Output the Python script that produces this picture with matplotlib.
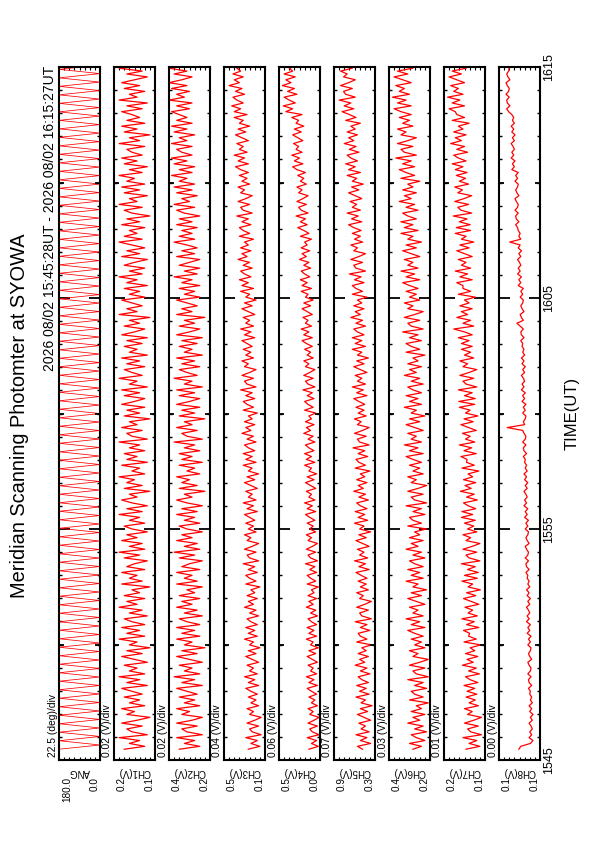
import matplotlib.pyplot as plt
import numpy as np
from matplotlib.ticker import MultipleLocator

plt.rcParams["font.family"] = ["Liberation Sans", "DejaVu Sans"]

W, H = 595, 842  # page size in px (dpi 100), chart drawn rotated onto a portrait page

TITLE = "Meridian Scanning Photomter at SYOWA"
PERIOD = "2026 08/02 15:45:28UT - 2026 08/02 16:15:27UT"
T_START, T_END = 28 / 60, 30 + 27 / 60  # minutes after 15:45 UT
time_ticks = [0, 10, 20, 30]
time_labels = ["1545", "1555", "1605", "1615"]

names = ["ANG", "CH1(V)", "CH2(V)", "CH3(V)", "CH4(V)", "CH5(V)", "CH6(V)", "CH7(V)", "CH8(V)"]
div_labels = ["22.5 (deg)/div", "0.02 (V)/div", "0.02 (V)/div", "0.04 (V)/div", "0.06 (V)/div",
              "0.07 (V)/div", "0.03 (V)/div", "0.01 (V)/div", "0.00 (V)/div"]
lo = [0.0, 0.08, 0.22, 0.14, 0.02, 0.30, 0.19, 0.12, 0.100]
hi = [180.0, 0.24, 0.38, 0.46, 0.50, 0.86, 0.43, 0.20, 0.132]
hi_labels = ["180.0", "0.2", "0.4", "0.5", "0.5", "0.9", "0.4", "0.2", "0.1"]
lo_labels = ["0.0", "0.1", "0.2", "0.1", "0.0", "0.3", "0.2", "0.1", "0.1"]

# scan angle, one value per sweep end
ang_deg = [
    180, 0, 180, 0, 180, 0, 180, 0, 180, 0, 180, 0, 180, 0, 180, 0, 180, 0, 180, 0,
    180, 0, 180, 0, 180, 0, 180, 0, 180, 0, 180, 0, 180, 0, 180, 0, 180, 0, 180, 0,
    180, 0, 180, 0, 180, 0, 180, 0, 180, 0, 180, 0, 180, 0, 180, 0, 180, 0, 180, 0,
    180, 0, 180, 0, 180, 0, 180, 0, 180, 0, 180, 0, 180, 0, 180, 0, 180, 0, 180, 0,
    180, 0, 180, 0, 180, 0, 180, 0, 180, 0, 180, 0, 180, 0, 180, 0, 180, 0, 180, 0,
    180, 0, 180, 0, 180, 0, 180, 0, 180, 0, 180, 0, 180, 0, 180, 0, 180, 0, 180, 0,
    180, 0, 180, 0, 180, 0, 180, 0, 180, 0, 180, 0, 180, 0, 180, 0, 180, 0, 180, 0,
    180, 0, 180, 0, 180, 0, 180, 0, 180, 0, 180, 0, 180, 0, 180, 0, 180, 0, 180, 0,
    180, 0, 180, 0,
]

# channel outputs (V), one value every 7.5 s
ch1 = [
    0.20, 0.12, 0.18, 0.14, 0.22, 0.11, 0.17, 0.19, 0.13, 0.21, 0.15, 0.10, 0.19, 0.16, 0.21, 0.12, 0.18, 0.14, 0.20, 0.13,
    0.17, 0.21, 0.11, 0.19, 0.14, 0.22, 0.12, 0.18, 0.15, 0.20, 0.11, 0.16, 0.21, 0.13, 0.19, 0.10, 0.18, 0.15, 0.22, 0.12,
    0.19, 0.14, 0.21, 0.12, 0.17, 0.20, 0.11, 0.18, 0.13, 0.22, 0.15, 0.19, 0.12, 0.20, 0.14, 0.17, 0.10, 0.21, 0.13, 0.18,
    0.15, 0.21, 0.12, 0.19, 0.16, 0.11, 0.20, 0.14, 0.22, 0.12, 0.18, 0.13, 0.21, 0.15, 0.19, 0.11, 0.17, 0.20, 0.12, 0.18,
    0.14, 0.22, 0.13, 0.19, 0.11, 0.17, 0.21, 0.15, 0.18, 0.10, 0.20, 0.13, 0.19, 0.16, 0.22, 0.12, 0.17, 0.14, 0.21, 0.11,
    0.19, 0.15, 0.20, 0.12, 0.18, 0.14, 0.22, 0.11, 0.17, 0.19, 0.13, 0.21, 0.15, 0.18, 0.10, 0.20, 0.14, 0.19, 0.12, 0.21,
    0.16, 0.12, 0.20, 0.14, 0.21, 0.11, 0.18, 0.15, 0.22, 0.13, 0.17, 0.20, 0.12, 0.19, 0.14, 0.21, 0.11, 0.18, 0.15, 0.20,
    0.13, 0.19, 0.11, 0.21, 0.16, 0.12, 0.20, 0.14, 0.18, 0.10, 0.22, 0.15, 0.19, 0.13, 0.17, 0.21, 0.12, 0.18, 0.14, 0.20,
    0.11, 0.19, 0.15, 0.22, 0.13, 0.18, 0.12, 0.20, 0.16, 0.11, 0.21, 0.14, 0.19, 0.12, 0.17, 0.22, 0.13, 0.20, 0.15, 0.18,
    0.12, 0.21, 0.14, 0.19, 0.10, 0.17, 0.20, 0.13, 0.22, 0.15, 0.18, 0.11, 0.20, 0.14, 0.21, 0.12, 0.19, 0.16, 0.22, 0.13,
    0.18, 0.11, 0.20, 0.15, 0.21, 0.13, 0.17, 0.19, 0.12, 0.22, 0.14, 0.18, 0.10, 0.20, 0.15, 0.21, 0.12, 0.19, 0.14, 0.17,
    0.21, 0.13, 0.19, 0.11, 0.22, 0.15, 0.18, 0.12, 0.20, 0.14, 0.21, 0.16, 0.11, 0.19, 0.13, 0.22, 0.15, 0.18, 0.12, 0.20,
]
ch2 = [
    0.34, 0.26, 0.32, 0.28, 0.35, 0.25, 0.31, 0.33, 0.27, 0.35, 0.29, 0.25, 0.33, 0.30, 0.35, 0.26, 0.32, 0.28, 0.34, 0.27,
    0.31, 0.35, 0.25, 0.33, 0.28, 0.36, 0.26, 0.32, 0.29, 0.34, 0.25, 0.30, 0.35, 0.27, 0.33, 0.24, 0.32, 0.29, 0.35, 0.26,
    0.33, 0.28, 0.35, 0.26, 0.31, 0.34, 0.25, 0.32, 0.27, 0.35, 0.29, 0.33, 0.26, 0.34, 0.28, 0.31, 0.25, 0.35, 0.27, 0.32,
    0.29, 0.35, 0.26, 0.33, 0.30, 0.25, 0.34, 0.28, 0.36, 0.26, 0.32, 0.27, 0.35, 0.29, 0.33, 0.25, 0.31, 0.34, 0.26, 0.32,
    0.28, 0.35, 0.27, 0.33, 0.25, 0.31, 0.35, 0.29, 0.32, 0.24, 0.34, 0.27, 0.33, 0.30, 0.35, 0.26, 0.31, 0.28, 0.34, 0.25,
    0.33, 0.29, 0.34, 0.26, 0.32, 0.28, 0.36, 0.25, 0.31, 0.33, 0.27, 0.35, 0.29, 0.32, 0.24, 0.34, 0.28, 0.33, 0.26, 0.35,
    0.30, 0.26, 0.34, 0.28, 0.35, 0.25, 0.32, 0.29, 0.36, 0.27, 0.31, 0.34, 0.26, 0.33, 0.28, 0.35, 0.25, 0.32, 0.29, 0.34,
    0.27, 0.33, 0.25, 0.35, 0.30, 0.26, 0.34, 0.28, 0.32, 0.24, 0.35, 0.29, 0.33, 0.27, 0.31, 0.35, 0.26, 0.32, 0.28, 0.34,
    0.26, 0.33, 0.29, 0.36, 0.27, 0.32, 0.26, 0.34, 0.30, 0.26, 0.35, 0.28, 0.33, 0.27, 0.31, 0.36, 0.28, 0.34, 0.29, 0.33,
    0.27, 0.35, 0.29, 0.34, 0.26, 0.32, 0.35, 0.28, 0.36, 0.30, 0.33, 0.27, 0.35, 0.29, 0.36, 0.28, 0.34, 0.31, 0.37, 0.29,
    0.34, 0.28, 0.36, 0.31, 0.37, 0.29, 0.33, 0.35, 0.29, 0.37, 0.31, 0.34, 0.28, 0.36, 0.31, 0.37, 0.29, 0.35, 0.31, 0.34,
    0.37, 0.30, 0.35, 0.29, 0.38, 0.32, 0.35, 0.30, 0.37, 0.31, 0.38, 0.33, 0.29, 0.36, 0.31, 0.38, 0.32, 0.35, 0.30, 0.37,
]
ch3 = [
    0.27, 0.18, 0.25, 0.20, 0.29, 0.17, 0.24, 0.26, 0.19, 0.28, 0.22, 0.17, 0.26, 0.23, 0.28, 0.19, 0.25, 0.21, 0.27, 0.20,
    0.25, 0.29, 0.19, 0.27, 0.22, 0.30, 0.20, 0.26, 0.23, 0.28, 0.19, 0.24, 0.29, 0.21, 0.27, 0.18, 0.26, 0.23, 0.30, 0.20,
    0.27, 0.22, 0.29, 0.20, 0.25, 0.28, 0.19, 0.26, 0.21, 0.30, 0.23, 0.27, 0.20, 0.28, 0.22, 0.25, 0.18, 0.29, 0.21, 0.26,
    0.29, 0.20, 0.27, 0.22, 0.31, 0.19, 0.26, 0.28, 0.21, 0.30, 0.24, 0.19, 0.28, 0.25, 0.30, 0.21, 0.27, 0.23, 0.29, 0.22,
    0.26, 0.30, 0.20, 0.28, 0.23, 0.31, 0.21, 0.27, 0.24, 0.29, 0.20, 0.25, 0.30, 0.22, 0.28, 0.19, 0.27, 0.24, 0.31, 0.21,
    0.29, 0.24, 0.31, 0.22, 0.27, 0.30, 0.21, 0.28, 0.23, 0.32, 0.25, 0.29, 0.22, 0.30, 0.24, 0.27, 0.20, 0.31, 0.23, 0.28,
    0.31, 0.22, 0.29, 0.24, 0.33, 0.21, 0.28, 0.30, 0.23, 0.32, 0.26, 0.21, 0.30, 0.27, 0.32, 0.23, 0.29, 0.25, 0.31, 0.24,
    0.28, 0.32, 0.22, 0.30, 0.25, 0.33, 0.23, 0.29, 0.26, 0.31, 0.22, 0.27, 0.32, 0.24, 0.30, 0.21, 0.29, 0.26, 0.33, 0.23,
    0.32, 0.27, 0.34, 0.25, 0.30, 0.33, 0.24, 0.31, 0.26, 0.35, 0.28, 0.32, 0.25, 0.33, 0.27, 0.30, 0.23, 0.34, 0.26, 0.31,
    0.34, 0.25, 0.32, 0.27, 0.36, 0.24, 0.31, 0.33, 0.26, 0.35, 0.29, 0.24, 0.33, 0.30, 0.35, 0.26, 0.32, 0.28, 0.34, 0.27,
    0.33, 0.37, 0.27, 0.35, 0.30, 0.38, 0.28, 0.34, 0.31, 0.36, 0.27, 0.32, 0.37, 0.29, 0.35, 0.26, 0.34, 0.31, 0.38, 0.28,
    0.38, 0.33, 0.40, 0.31, 0.36, 0.39, 0.30, 0.37, 0.32, 0.42, 0.34, 0.38, 0.31, 0.39, 0.33, 0.36, 0.29, 0.41, 0.32, 0.37,
]
ch4 = [
    0.15, 0.04, 0.12, 0.06, 0.17, 0.03, 0.11, 0.14, 0.05, 0.16, 0.09, 0.03, 0.14, 0.10, 0.16, 0.05, 0.12, 0.08, 0.15, 0.06,
    0.12, 0.17, 0.05, 0.15, 0.09, 0.18, 0.06, 0.13, 0.10, 0.16, 0.05, 0.11, 0.17, 0.07, 0.15, 0.04, 0.13, 0.10, 0.18, 0.06,
    0.15, 0.09, 0.17, 0.06, 0.12, 0.16, 0.05, 0.13, 0.07, 0.18, 0.10, 0.15, 0.06, 0.16, 0.09, 0.12, 0.04, 0.17, 0.07, 0.13,
    0.17, 0.06, 0.14, 0.08, 0.19, 0.05, 0.13, 0.16, 0.07, 0.18, 0.11, 0.05, 0.16, 0.12, 0.18, 0.07, 0.14, 0.10, 0.17, 0.08,
    0.14, 0.19, 0.07, 0.17, 0.11, 0.20, 0.08, 0.15, 0.12, 0.18, 0.07, 0.13, 0.19, 0.09, 0.17, 0.06, 0.15, 0.12, 0.20, 0.08,
    0.18, 0.12, 0.20, 0.09, 0.15, 0.19, 0.08, 0.16, 0.10, 0.21, 0.13, 0.18, 0.09, 0.19, 0.12, 0.15, 0.07, 0.20, 0.10, 0.16,
    0.20, 0.09, 0.17, 0.11, 0.22, 0.08, 0.16, 0.19, 0.10, 0.21, 0.14, 0.08, 0.19, 0.15, 0.21, 0.10, 0.17, 0.13, 0.20, 0.11,
    0.18, 0.23, 0.11, 0.21, 0.15, 0.24, 0.12, 0.19, 0.16, 0.22, 0.11, 0.17, 0.23, 0.13, 0.21, 0.10, 0.19, 0.16, 0.24, 0.12,
    0.23, 0.17, 0.25, 0.14, 0.20, 0.24, 0.13, 0.21, 0.15, 0.26, 0.18, 0.23, 0.14, 0.24, 0.17, 0.20, 0.12, 0.25, 0.15, 0.21,
    0.28, 0.17, 0.25, 0.19, 0.30, 0.16, 0.24, 0.27, 0.18, 0.29, 0.22, 0.16, 0.27, 0.23, 0.29, 0.18, 0.25, 0.21, 0.28, 0.19,
    0.29, 0.34, 0.22, 0.32, 0.26, 0.35, 0.23, 0.30, 0.27, 0.33, 0.22, 0.28, 0.34, 0.24, 0.32, 0.21, 0.30, 0.27, 0.35, 0.23,
    0.42, 0.34, 0.45, 0.31, 0.38, 0.44, 0.29, 0.40, 0.32, 0.46, 0.36, 0.42, 0.31, 0.44, 0.34, 0.38, 0.28, 0.45, 0.32, 0.40,
]
ch5 = [
    0.47, 0.54, 0.36, 0.50, 0.41, 0.56, 0.38, 0.49, 0.43, 0.52, 0.36, 0.45, 0.54, 0.40, 0.50, 0.34, 0.49, 0.43, 0.56, 0.38,
    0.51, 0.42, 0.55, 0.39, 0.48, 0.53, 0.37, 0.50, 0.41, 0.57, 0.44, 0.51, 0.39, 0.53, 0.42, 0.48, 0.35, 0.55, 0.41, 0.50,
    0.53, 0.37, 0.50, 0.41, 0.57, 0.35, 0.48, 0.51, 0.39, 0.55, 0.44, 0.35, 0.51, 0.46, 0.55, 0.39, 0.50, 0.42, 0.53, 0.41,
    0.49, 0.56, 0.38, 0.52, 0.43, 0.58, 0.40, 0.51, 0.45, 0.54, 0.38, 0.47, 0.56, 0.42, 0.52, 0.36, 0.51, 0.45, 0.58, 0.40,
    0.53, 0.44, 0.57, 0.41, 0.50, 0.55, 0.39, 0.52, 0.43, 0.59, 0.46, 0.53, 0.41, 0.55, 0.44, 0.50, 0.37, 0.57, 0.43, 0.52,
    0.56, 0.40, 0.53, 0.44, 0.60, 0.38, 0.51, 0.54, 0.42, 0.58, 0.47, 0.38, 0.54, 0.49, 0.58, 0.42, 0.53, 0.45, 0.56, 0.44,
    0.52, 0.59, 0.41, 0.55, 0.46, 0.61, 0.43, 0.54, 0.48, 0.57, 0.41, 0.50, 0.59, 0.45, 0.55, 0.39, 0.54, 0.48, 0.61, 0.43,
    0.57, 0.48, 0.61, 0.45, 0.54, 0.59, 0.43, 0.56, 0.47, 0.63, 0.50, 0.57, 0.45, 0.59, 0.48, 0.54, 0.41, 0.61, 0.47, 0.56,
    0.61, 0.45, 0.58, 0.49, 0.65, 0.43, 0.56, 0.59, 0.47, 0.63, 0.52, 0.43, 0.59, 0.54, 0.63, 0.47, 0.58, 0.50, 0.61, 0.49,
    0.59, 0.66, 0.48, 0.62, 0.53, 0.68, 0.50, 0.61, 0.55, 0.64, 0.48, 0.57, 0.66, 0.52, 0.62, 0.46, 0.61, 0.55, 0.68, 0.50,
    0.66, 0.57, 0.70, 0.54, 0.63, 0.68, 0.52, 0.65, 0.56, 0.72, 0.59, 0.66, 0.54, 0.68, 0.57, 0.63, 0.50, 0.70, 0.56, 0.65,
    0.75, 0.59, 0.72, 0.63, 0.79, 0.57, 0.70, 0.73, 0.61, 0.77, 0.66, 0.57, 0.73, 0.68, 0.77, 0.61, 0.72, 0.64, 0.75, 0.63,
]
ch6 = [
    0.29, 0.24, 0.31, 0.22, 0.27, 0.30, 0.21, 0.28, 0.23, 0.32, 0.25, 0.29, 0.22, 0.30, 0.24, 0.27, 0.20, 0.31, 0.23, 0.28,
    0.30, 0.21, 0.28, 0.23, 0.32, 0.20, 0.27, 0.29, 0.22, 0.31, 0.25, 0.20, 0.29, 0.26, 0.31, 0.22, 0.28, 0.24, 0.30, 0.23,
    0.28, 0.32, 0.22, 0.30, 0.25, 0.33, 0.23, 0.29, 0.26, 0.31, 0.22, 0.27, 0.32, 0.24, 0.30, 0.21, 0.29, 0.26, 0.33, 0.23,
    0.30, 0.25, 0.32, 0.23, 0.28, 0.31, 0.22, 0.29, 0.24, 0.33, 0.26, 0.30, 0.23, 0.31, 0.25, 0.28, 0.21, 0.32, 0.24, 0.29,
    0.31, 0.22, 0.29, 0.24, 0.33, 0.21, 0.28, 0.30, 0.23, 0.32, 0.26, 0.21, 0.30, 0.27, 0.32, 0.23, 0.29, 0.25, 0.31, 0.24,
    0.29, 0.33, 0.23, 0.31, 0.26, 0.34, 0.24, 0.30, 0.27, 0.32, 0.23, 0.28, 0.33, 0.25, 0.31, 0.22, 0.30, 0.27, 0.34, 0.24,
    0.31, 0.26, 0.33, 0.24, 0.29, 0.32, 0.23, 0.30, 0.25, 0.34, 0.27, 0.31, 0.24, 0.32, 0.26, 0.29, 0.22, 0.33, 0.25, 0.30,
    0.33, 0.24, 0.31, 0.26, 0.35, 0.23, 0.30, 0.32, 0.25, 0.34, 0.28, 0.23, 0.32, 0.29, 0.34, 0.25, 0.31, 0.27, 0.33, 0.26,
    0.31, 0.35, 0.25, 0.33, 0.28, 0.36, 0.26, 0.32, 0.29, 0.34, 0.25, 0.30, 0.35, 0.27, 0.33, 0.24, 0.32, 0.29, 0.36, 0.26,
    0.34, 0.29, 0.36, 0.27, 0.32, 0.35, 0.26, 0.33, 0.28, 0.37, 0.30, 0.34, 0.27, 0.35, 0.29, 0.32, 0.25, 0.36, 0.28, 0.33,
    0.37, 0.28, 0.35, 0.30, 0.39, 0.27, 0.34, 0.36, 0.29, 0.38, 0.32, 0.27, 0.36, 0.33, 0.38, 0.29, 0.35, 0.31, 0.37, 0.30,
    0.36, 0.40, 0.30, 0.38, 0.33, 0.41, 0.31, 0.37, 0.34, 0.39, 0.30, 0.35, 0.40, 0.32, 0.38, 0.29, 0.37, 0.34, 0.41, 0.31,
]
ch7 = [
    0.157, 0.130, 0.151, 0.136, 0.163, 0.127, 0.148, 0.154, 0.133, 0.160, 0.142, 0.127, 0.154, 0.145, 0.160, 0.133, 0.151, 0.139, 0.157, 0.136,
    0.155, 0.140, 0.161, 0.134, 0.149, 0.158, 0.131, 0.152, 0.137, 0.164, 0.143, 0.155, 0.134, 0.158, 0.140, 0.149, 0.128, 0.161, 0.137, 0.152,
    0.150, 0.162, 0.132, 0.156, 0.141, 0.165, 0.135, 0.153, 0.144, 0.159, 0.132, 0.147, 0.162, 0.138, 0.156, 0.129, 0.153, 0.144, 0.165, 0.135,
    0.160, 0.133, 0.154, 0.139, 0.166, 0.130, 0.151, 0.157, 0.136, 0.163, 0.145, 0.130, 0.157, 0.148, 0.163, 0.136, 0.154, 0.142, 0.160, 0.139,
    0.166, 0.144, 0.165, 0.138, 0.153, 0.162, 0.135, 0.156, 0.141, 0.168, 0.147, 0.159, 0.138, 0.162, 0.144, 0.153, 0.132, 0.165, 0.141, 0.156,
    0.155, 0.167, 0.137, 0.161, 0.146, 0.170, 0.140, 0.158, 0.149, 0.164, 0.137, 0.152, 0.167, 0.143, 0.161, 0.134, 0.158, 0.149, 0.170, 0.140,
    0.171, 0.139, 0.160, 0.145, 0.172, 0.136, 0.157, 0.163, 0.142, 0.169, 0.151, 0.136, 0.163, 0.154, 0.169, 0.142, 0.160, 0.148, 0.166, 0.145,
    0.166, 0.151, 0.172, 0.145, 0.160, 0.181, 0.142, 0.163, 0.148, 0.175, 0.154, 0.166, 0.145, 0.169, 0.151, 0.160, 0.139, 0.172, 0.148, 0.163,
    0.163, 0.175, 0.145, 0.169, 0.154, 0.178, 0.148, 0.166, 0.157, 0.172, 0.145, 0.160, 0.175, 0.151, 0.169, 0.142, 0.166, 0.157, 0.178, 0.148,
    0.176, 0.149, 0.170, 0.155, 0.182, 0.146, 0.167, 0.173, 0.152, 0.179, 0.161, 0.146, 0.173, 0.164, 0.179, 0.152, 0.170, 0.158, 0.176, 0.155,
    0.178, 0.163, 0.184, 0.157, 0.172, 0.181, 0.154, 0.175, 0.160, 0.187, 0.166, 0.178, 0.157, 0.181, 0.163, 0.172, 0.151, 0.184, 0.160, 0.175,
    0.178, 0.190, 0.160, 0.184, 0.169, 0.193, 0.163, 0.181, 0.172, 0.187, 0.160, 0.175, 0.190, 0.166, 0.184, 0.157, 0.181, 0.172, 0.193, 0.163,
]
ch8 = [
    0.1165, 0.1150, 0.1075, 0.1055, 0.1085, 0.1065, 0.1080, 0.1060, 0.1070, 0.1085, 0.1060, 0.1075, 0.1055, 0.1080, 0.1065, 0.1085, 0.1060, 0.1075, 0.1065, 0.1080,
    0.1075, 0.1090, 0.1065, 0.1085, 0.1090, 0.1070, 0.1095, 0.1075, 0.1070, 0.1085, 0.1095, 0.1065, 0.1080, 0.1090, 0.1075, 0.1070, 0.1095, 0.1075, 0.1090, 0.1070,
    0.1100, 0.1080, 0.1095, 0.1075, 0.1105, 0.1085, 0.1100, 0.1080, 0.1090, 0.1105, 0.1080, 0.1095, 0.1075, 0.1100, 0.1085, 0.1105, 0.1080, 0.1095, 0.1085, 0.1100,
    0.1095, 0.1110, 0.1085, 0.1105, 0.1110, 0.1090, 0.1115, 0.1095, 0.1090, 0.1105, 0.1115, 0.1085, 0.1100, 0.1110, 0.1095, 0.1090, 0.1115, 0.1095, 0.1110, 0.1090,
    0.1120, 0.1100, 0.1115, 0.1095, 0.1125, 0.1105, 0.1120, 0.1100, 0.1110, 0.1125, 0.1100, 0.1115, 0.1095, 0.1120, 0.1105, 0.1125, 0.1100, 0.1115, 0.1105, 0.1120,
    0.1115, 0.1130, 0.1105, 0.1125, 0.1130, 0.1110, 0.1135, 0.1115, 0.1110, 0.1125, 0.1135, 0.1256, 0.1120, 0.1130, 0.1115, 0.1110, 0.1135, 0.1115, 0.1130, 0.1110,
    0.1140, 0.1120, 0.1135, 0.1115, 0.1145, 0.1125, 0.1140, 0.1120, 0.1130, 0.1145, 0.1120, 0.1135, 0.1115, 0.1140, 0.1125, 0.1145, 0.1120, 0.1135, 0.1125, 0.1140,
    0.1135, 0.1150, 0.1125, 0.1145, 0.1150, 0.1130, 0.1155, 0.1180, 0.1130, 0.1145, 0.1155, 0.1125, 0.1140, 0.1150, 0.1135, 0.1130, 0.1155, 0.1135, 0.1150, 0.1130,
    0.1170, 0.1150, 0.1165, 0.1145, 0.1175, 0.1155, 0.1170, 0.1150, 0.1160, 0.1175, 0.1150, 0.1165, 0.1145, 0.1170, 0.1155, 0.1236, 0.1150, 0.1165, 0.1155, 0.1170,
    0.1175, 0.1190, 0.1165, 0.1185, 0.1190, 0.1170, 0.1195, 0.1175, 0.1170, 0.1185, 0.1195, 0.1165, 0.1180, 0.1190, 0.1175, 0.1170, 0.1195, 0.1175, 0.1190, 0.1170,
    0.1220, 0.1200, 0.1215, 0.1195, 0.1225, 0.1205, 0.1220, 0.1200, 0.1210, 0.1225, 0.1200, 0.1215, 0.1195, 0.1220, 0.1205, 0.1225, 0.1200, 0.1215, 0.1205, 0.1220,
    0.1245, 0.1260, 0.1235, 0.1255, 0.1260, 0.1240, 0.1265, 0.1245, 0.1240, 0.1255, 0.1265, 0.1235, 0.1250, 0.1260, 0.1245, 0.1240, 0.1265, 0.1245, 0.1260, 0.1240,
]
series = [ang_deg, ch1, ch2, ch3, ch4, ch5, ch6, ch7, ch8]


def fx(x):
    return x / W


def fy(y):
    return 1 - y / H


fig = plt.figure(figsize=(W / 100, H / 100), dpi=100)

PANEL_X0, PANEL_STEP, PANEL_W = 59, 55, 41
PANEL_TOP, PANEL_BOT = 67, 760

for i, vals in enumerate(series):
    x0 = PANEL_X0 + PANEL_STEP * i
    ax = fig.add_axes([fx(x0), fy(PANEL_BOT), PANEL_W / W, (PANEL_BOT - PANEL_TOP) / H])
    t = np.linspace(T_START, T_END, len(vals))
    ax.plot(vals, t, color="red", lw=0.55 if i == 0 else 0.9)
    # value axis runs right-to-left, time runs upward
    ax.set_xlim(hi[i], lo[i])
    ax.set_ylim(time_ticks[0], time_ticks[-1])
    ax.set_xticks(np.linspace(lo[i], hi[i], 9))
    ax.set_xticklabels([])
    ax.set_yticks(time_ticks)
    ax.set_yticklabels([])
    ax.yaxis.set_minor_locator(MultipleLocator(1))
    ax.tick_params(axis="x", which="major", direction="in", top=True, bottom=True,
                   length=2.5, width=0.8)
    ax.tick_params(axis="y", which="major", direction="in", left=True, right=True,
                   length=8, width=1.3)
    ax.tick_params(axis="y", which="minor", direction="in", left=True, right=True,
                   length=2.5, width=1.0)
    ytr = ax.get_yaxis_transform()
    ax.hlines([5, 15, 25], 0, 0.13, transform=ytr, color="black", lw=1.3)
    ax.hlines([5, 15, 25], 0.87, 1, transform=ytr, color="black", lw=1.3)
    for s in ax.spines.values():
        s.set_linewidth(1.5)

    fig.text(fx(x0 - 1.5), fy(757), div_labels[i], rotation=90, ha="right", va="bottom", fontsize=7.4)
    fig.text(fx(x0 + PANEL_W / 2), fy(772), names[i], rotation=180, ha="center", va="center", fontsize=7)
    fig.text(fx(x0 + 3), fy(777), hi_labels[i], rotation=90, ha="left", va="top", fontsize=7.2)
    fig.text(fx(x0 + PANEL_W - 0.5), fy(777), lo_labels[i], rotation=90, ha="right", va="top", fontsize=7.2)

for tt, lab in zip(time_ticks, time_labels):
    ax.annotate(lab, xy=(1, tt), xycoords=("axes fraction", "data"), xytext=(2.2, 0),
                textcoords="offset points", rotation=90, ha="left", va="center",
                fontsize=9, annotation_clip=False)

fig.text(fx(20), fy(416), TITLE, rotation=90, ha="center", va="center", fontsize=14.4)
fig.text(fx(57), fy(66), PERIOD, rotation=90, ha="right", va="top", fontsize=10)
fig.text(fx(572), fy(413), "TIME(UT)", rotation=90, ha="center", va="center", fontsize=12)

fig.savefig("out.png", dpi=100)
